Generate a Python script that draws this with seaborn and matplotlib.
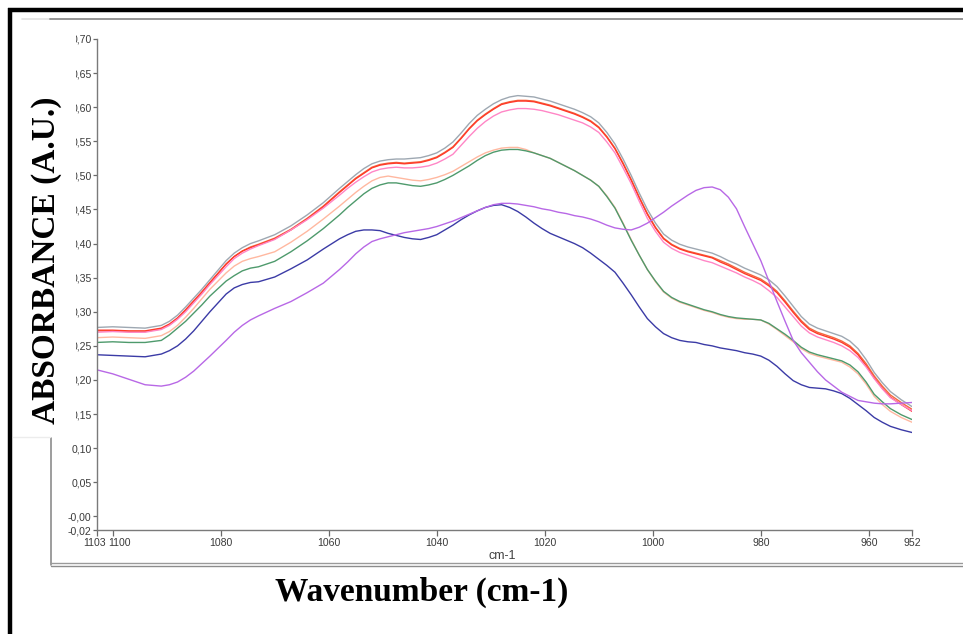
import matplotlib
matplotlib.use("Agg")
import matplotlib.pyplot as plt
import matplotlib.transforms as mtransforms
from matplotlib.lines import Line2D
from matplotlib.patches import Rectangle
import pandas as pd
import seaborn as sns

# ---------------- data ----------------
wavenumber = [1103, 1100, 1097, 1094, 1091, 1089.5, 1088, 1086.5, 1085, 1083.5, 1082,
              1079, 1077.5, 1076, 1074.5, 1073, 1070, 1067, 1064, 1061, 1058,
              1056.5, 1055, 1053.5, 1052, 1050.5, 1049, 1047.5, 1046, 1044.5, 1043,
              1041.5, 1040, 1038.5, 1037, 1035.5, 1034, 1032.5, 1031, 1029.5, 1028,
              1026.5, 1025, 1023.5, 1022, 1020.5, 1019, 1017.5, 1016, 1014.5, 1013,
              1011.5, 1010, 1008.5, 1007, 1005.5, 1004, 1002.5, 1001, 999.5, 998,
              996.5, 995, 993.5, 992, 990.5, 989, 987.5, 986, 984.5, 983,
              981.5, 980, 978.5, 977, 975.5, 974, 972.5, 971, 969.5, 968,
              966.5, 965, 963.5, 962, 960.5, 959, 957.5, 956, 954, 952]

gray_series = [0.277, 0.278, 0.277, 0.276, 0.280, 0.286, 0.295, 0.307, 0.320, 0.333, 0.347,
               0.375, 0.386, 0.394, 0.400, 0.404, 0.413, 0.426, 0.442, 0.460, 0.481,
               0.491, 0.501, 0.510, 0.517, 0.521, 0.523, 0.524, 0.524, 0.525, 0.526,
               0.529, 0.533, 0.540, 0.549, 0.562, 0.576, 0.588, 0.597, 0.605, 0.611,
               0.615, 0.617, 0.616, 0.615, 0.612, 0.609, 0.605, 0.601, 0.597, 0.592,
               0.586, 0.577, 0.563, 0.546, 0.524, 0.500, 0.474, 0.450, 0.430, 0.414,
               0.405, 0.399, 0.395, 0.392, 0.389, 0.386, 0.381, 0.375, 0.370, 0.364,
               0.359, 0.354, 0.347, 0.337, 0.323, 0.308, 0.293, 0.282, 0.276, 0.272,
               0.268, 0.264, 0.257, 0.246, 0.230, 0.211, 0.196, 0.183, 0.171, 0.161]

orange_series = [0.272, 0.272, 0.271, 0.271, 0.275, 0.281, 0.290, 0.302, 0.315, 0.328, 0.342,
                 0.370, 0.381, 0.389, 0.395, 0.399, 0.408, 0.421, 0.437, 0.455, 0.476,
                 0.486, 0.496, 0.504, 0.512, 0.516, 0.518, 0.519, 0.518, 0.519, 0.520,
                 0.523, 0.527, 0.534, 0.542, 0.555, 0.569, 0.581, 0.590, 0.598, 0.605,
                 0.608, 0.610, 0.610, 0.609, 0.606, 0.603, 0.599, 0.595, 0.591, 0.586,
                 0.580, 0.571, 0.557, 0.540, 0.518, 0.494, 0.468, 0.444, 0.424, 0.408,
                 0.399, 0.393, 0.389, 0.386, 0.383, 0.380, 0.375, 0.370, 0.364, 0.358,
                 0.353, 0.348, 0.340, 0.330, 0.316, 0.301, 0.287, 0.276, 0.270, 0.266,
                 0.262, 0.257, 0.250, 0.239, 0.224, 0.206, 0.191, 0.178, 0.167, 0.157]

red_series = [0.273, 0.273, 0.272, 0.272, 0.276, 0.282, 0.291, 0.303, 0.316, 0.329, 0.343,
              0.370, 0.381, 0.389, 0.394, 0.398, 0.407, 0.420, 0.436, 0.454, 0.475,
              0.485, 0.495, 0.503, 0.511, 0.515, 0.517, 0.518, 0.517, 0.518, 0.519,
              0.522, 0.526, 0.533, 0.541, 0.554, 0.568, 0.580, 0.589, 0.597, 0.604,
              0.607, 0.609, 0.609, 0.608, 0.605, 0.602, 0.598, 0.594, 0.590, 0.585,
              0.579, 0.570, 0.556, 0.539, 0.517, 0.493, 0.467, 0.443, 0.423, 0.407,
              0.398, 0.392, 0.388, 0.385, 0.382, 0.379, 0.373, 0.368, 0.362, 0.356,
              0.351, 0.346, 0.338, 0.328, 0.314, 0.299, 0.285, 0.274, 0.268, 0.264,
              0.260, 0.255, 0.248, 0.237, 0.221, 0.203, 0.188, 0.175, 0.164, 0.154]

pink_series = [0.270, 0.271, 0.270, 0.270, 0.274, 0.280, 0.289, 0.300, 0.313, 0.326, 0.340,
               0.366, 0.378, 0.386, 0.392, 0.397, 0.406, 0.420, 0.435, 0.452, 0.471,
               0.481, 0.490, 0.498, 0.505, 0.509, 0.511, 0.512, 0.511, 0.511, 0.512,
               0.514, 0.518, 0.524, 0.531, 0.544, 0.557, 0.569, 0.579, 0.587, 0.593,
               0.596, 0.598, 0.598, 0.597, 0.595, 0.592, 0.589, 0.585, 0.581, 0.577,
               0.571, 0.563, 0.549, 0.533, 0.511, 0.488, 0.462, 0.437, 0.418, 0.402,
               0.393, 0.387, 0.383, 0.379, 0.375, 0.372, 0.367, 0.362, 0.357, 0.351,
               0.346, 0.340, 0.331, 0.321, 0.307, 0.293, 0.279, 0.269, 0.263, 0.259,
               0.255, 0.250, 0.243, 0.233, 0.219, 0.202, 0.187, 0.174, 0.164, 0.155]

salmon_series = [0.262, 0.263, 0.262, 0.261, 0.265, 0.271, 0.280, 0.292, 0.305, 0.319, 0.333,
                 0.357, 0.367, 0.374, 0.378, 0.381, 0.388, 0.402, 0.418, 0.436, 0.455,
                 0.465, 0.475, 0.484, 0.492, 0.497, 0.499, 0.497, 0.495, 0.493, 0.492,
                 0.494, 0.497, 0.501, 0.506, 0.513, 0.520, 0.527, 0.533, 0.537, 0.540,
                 0.541, 0.541, 0.538, 0.533, 0.529, 0.525, 0.519, 0.513, 0.507, 0.500,
                 0.493, 0.484, 0.470, 0.453, 0.430, 0.406, 0.383, 0.362, 0.344, 0.329,
                 0.320, 0.314, 0.310, 0.306, 0.302, 0.299, 0.295, 0.292, 0.290, 0.289,
                 0.289, 0.288, 0.282, 0.274, 0.265, 0.256, 0.246, 0.239, 0.235, 0.232,
                 0.229, 0.226, 0.219, 0.209, 0.194, 0.176, 0.164, 0.154, 0.145, 0.138]

green_series = [0.255, 0.256, 0.255, 0.255, 0.258, 0.266, 0.276, 0.286, 0.298, 0.310, 0.323,
                0.345, 0.353, 0.360, 0.364, 0.366, 0.374, 0.388, 0.404, 0.422, 0.442,
                0.453, 0.463, 0.473, 0.481, 0.486, 0.489, 0.489, 0.487, 0.485, 0.484,
                0.486, 0.489, 0.494, 0.500, 0.507, 0.514, 0.522, 0.529, 0.534, 0.537,
                0.538, 0.538, 0.536, 0.533, 0.529, 0.525, 0.519, 0.513, 0.507, 0.500,
                0.493, 0.484, 0.469, 0.452, 0.429, 0.405, 0.383, 0.362, 0.345, 0.330,
                0.321, 0.315, 0.311, 0.307, 0.303, 0.300, 0.296, 0.293, 0.291, 0.290,
                0.289, 0.288, 0.283, 0.275, 0.267, 0.258, 0.248, 0.241, 0.237, 0.234,
                0.231, 0.228, 0.222, 0.212, 0.197, 0.179, 0.168, 0.158, 0.149, 0.142]

blue_series = [0.237, 0.236, 0.235, 0.234, 0.238, 0.243, 0.250, 0.260, 0.272, 0.286, 0.300,
               0.326, 0.335, 0.340, 0.343, 0.344, 0.351, 0.363, 0.376, 0.392, 0.407,
               0.413, 0.418, 0.420, 0.420, 0.419, 0.415, 0.412, 0.409, 0.407, 0.406,
               0.409, 0.413, 0.420, 0.427, 0.435, 0.442, 0.448, 0.453, 0.456, 0.457,
               0.453, 0.447, 0.439, 0.430, 0.422, 0.415, 0.410, 0.405, 0.400, 0.394,
               0.386, 0.377, 0.368, 0.358, 0.342, 0.325, 0.307, 0.290, 0.278, 0.268,
               0.262, 0.258, 0.256, 0.255, 0.252, 0.250, 0.247, 0.245, 0.243, 0.240,
               0.238, 0.235, 0.229, 0.220, 0.209, 0.199, 0.193, 0.189, 0.188, 0.187,
               0.184, 0.180, 0.173, 0.164, 0.155, 0.145, 0.138, 0.132, 0.127, 0.123]

purple_series = [0.215, 0.209, 0.201, 0.193, 0.191, 0.193, 0.197, 0.204, 0.213, 0.224, 0.235,
                 0.258, 0.270, 0.280, 0.288, 0.294, 0.305, 0.315, 0.328, 0.342, 0.362,
                 0.373, 0.385, 0.395, 0.403, 0.407, 0.410, 0.413, 0.416, 0.418, 0.420,
                 0.422, 0.425, 0.429, 0.433, 0.438, 0.443, 0.448, 0.453, 0.457, 0.459,
                 0.459, 0.458, 0.456, 0.454, 0.451, 0.449, 0.446, 0.444, 0.441, 0.439,
                 0.436, 0.432, 0.427, 0.423, 0.421, 0.420, 0.424, 0.430, 0.438, 0.446,
                 0.455, 0.463, 0.471, 0.478, 0.482, 0.483, 0.479, 0.468, 0.451, 0.425,
                 0.400, 0.375, 0.345, 0.315, 0.286, 0.258, 0.240, 0.226, 0.212, 0.200,
                 0.191, 0.182, 0.176, 0.170, 0.168, 0.166, 0.165, 0.165, 0.166, 0.167]

series_names = ["gray", "orange", "red", "pink", "salmon", "green", "blue", "purple"]
series_values = [gray_series, orange_series, red_series, pink_series,
                 salmon_series, green_series, blue_series, purple_series]
series_colors = ["#9ea8b2", "#f26a3e", "#ff3a2a", "#ff86c6", "#ffb8a0",
                 "#4e9a6c", "#3b3ba6", "#b868e6"]

x_ticks = [1103, 1100, 1080, 1060, 1040, 1020, 1000, 980, 960, 952]
x_tick_labels = ["1103", "1100", "1080", "1060", "1040", "1020", "1000", "980", "960", "952"]
y_ticks = [-0.02, 0.00, 0.05, 0.10, 0.15, 0.20, 0.25, 0.30, 0.35, 0.40,
           0.45, 0.50, 0.55, 0.60, 0.65, 0.70]
y_tick_labels = ["-0,02", "-0,00", "0,05", "0,10", "0,15", "0,20", "0,25", "0,30",
                 "0,35", "0,40", "0,45", "0,50", "0,55", "0,60", "0,65", "0,70"]

# ---------------- build long table ----------------
frames = []
for name, vals in zip(series_names, series_values):
    frames.append(pd.DataFrame({"wavenumber": wavenumber, "absorbance": vals, "series": name}))
df = pd.concat(frames, ignore_index=True)
palette = dict(zip(series_names, series_colors))

# ---------------- figure ----------------
sns.set_theme(style="white")
plt.rcParams["font.family"] = ["Liberation Sans", "DejaVu Sans"]

W, H = 963, 634
fig = plt.figure(figsize=(W / 100, H / 100), dpi=100)
fig.patch.set_facecolor("white")

def fx(px):
    return px / W

def fy(py):
    return 1 - py / H

ax_left, ax_right, ax_top, ax_bottom = 96.5, 912.0, 39.0, 530.0
ax = fig.add_axes([fx(ax_left), fy(ax_bottom), fx(ax_right) - fx(ax_left),
                   (ax_bottom - ax_top) / H])

sns.lineplot(data=df, x="wavenumber", y="absorbance", hue="series", palette=palette,
             hue_order=series_names, estimator=None, sort=False, legend=False,
             linewidth=1.0, ax=ax)
for ln in ax.lines:
    ln.set_solid_joinstyle("round")

ax.set_xlim(1103, 952)
ax.set_ylim(-0.02, 0.70)
ax.set_xlabel("")
ax.set_ylabel("")

for side in ["top", "right"]:
    ax.spines[side].set_visible(False)
for side in ["left", "bottom"]:
    ax.spines[side].set_color("#7a7a7a")
    ax.spines[side].set_linewidth(1.0)

tick_font = {"family": ["Liberation Sans", "DejaVu Sans"], "size": 7.6}
ax.set_xticks(x_ticks)
ax.set_xticklabels(x_tick_labels, color="#3a3a3a", **tick_font)
ax.set_yticks(y_ticks)
ax.set_yticklabels(y_tick_labels, color="#3a3a3a", **tick_font)
ax.tick_params(axis="x", direction="out", length=4, width=0.9, color="#6a6a6a",
               bottom=True, pad=1.5)
ax.tick_params(axis="y", direction="out", length=3, width=0.9, color="#6a6a6a",
               left=True, pad=0.5)

# nudge the crowded first two x labels apart
for lab in ax.get_xticklabels():
    if lab.get_text() == "1100":
        lab.set_transform(lab.get_transform() +
                          mtransforms.ScaledTranslation(7 / 100, 0, fig.dpi_scale_trans))
    if lab.get_text() == "1103":
        lab.set_transform(lab.get_transform() +
                          mtransforms.ScaledTranslation(-2 / 100, 0, fig.dpi_scale_trans))

fig.text(fx(502), fy(556), "cm-1", ha="center", va="center", fontsize=9,
         color="#404040", family=["Liberation Sans", "DejaVu Sans"])

# ---------------- window frame decorations ----------------
fig.add_artist(Line2D([fx(10), fx(10)], [fy(8), fy(634)], color="black", lw=3.2,
                      transform=fig.transFigure, solid_capstyle="butt"))
fig.add_artist(Line2D([fx(8), fx(963)], [fy(10), fy(10)], color="black", lw=3.2,
                      transform=fig.transFigure, solid_capstyle="butt"))
fig.add_artist(Line2D([fx(22), fx(50)], [fy(19), fy(19)], color="#e2e2e2", lw=1.2,
                      transform=fig.transFigure))
fig.add_artist(Line2D([fx(50), fx(963)], [fy(19), fy(19)], color="#8c8c8c", lw=1.3,
                      transform=fig.transFigure))
fig.add_artist(Line2D([fx(51), fx(51)], [fy(438), fy(565)], color="#8c8c8c", lw=1.2,
                      transform=fig.transFigure))
fig.add_artist(Line2D([fx(51), fx(963)], [fy(563), fy(563)], color="#9a9a9a", lw=1.0,
                      transform=fig.transFigure))
fig.add_artist(Line2D([fx(51), fx(963)], [fy(565.5), fy(565.5)], color="#8c8c8c", lw=1.0,
                      transform=fig.transFigure))

# white box behind the y-axis title (clips part of the leading zero of upper tick labels)
box = Rectangle((fx(13), fy(437)), fx(75.5) - fx(13), (437 - 20) / H,
                transform=fig.transFigure, facecolor="white", edgecolor="none", zorder=5)
fig.add_artist(box)
fig.add_artist(Line2D([fx(13), fx(50)], [fy(437), fy(437)], color="#ececec", lw=1.0,
                      transform=fig.transFigure, zorder=5))

fig.text(fx(46), fy(260), "ABSORBANCE (A.U.)", rotation=90, ha="center", va="center",
         fontsize=24, fontweight="bold", family=["Liberation Serif", "DejaVu Serif"],
         color="black", zorder=6)
fig.text(fx(422), fy(592), "Wavenumber (cm-1)", ha="center", va="center",
         fontsize=24, fontweight="bold", family=["Liberation Serif", "DejaVu Serif"],
         color="black", zorder=6)

fig.savefig("out.png", dpi=100, facecolor="white")
